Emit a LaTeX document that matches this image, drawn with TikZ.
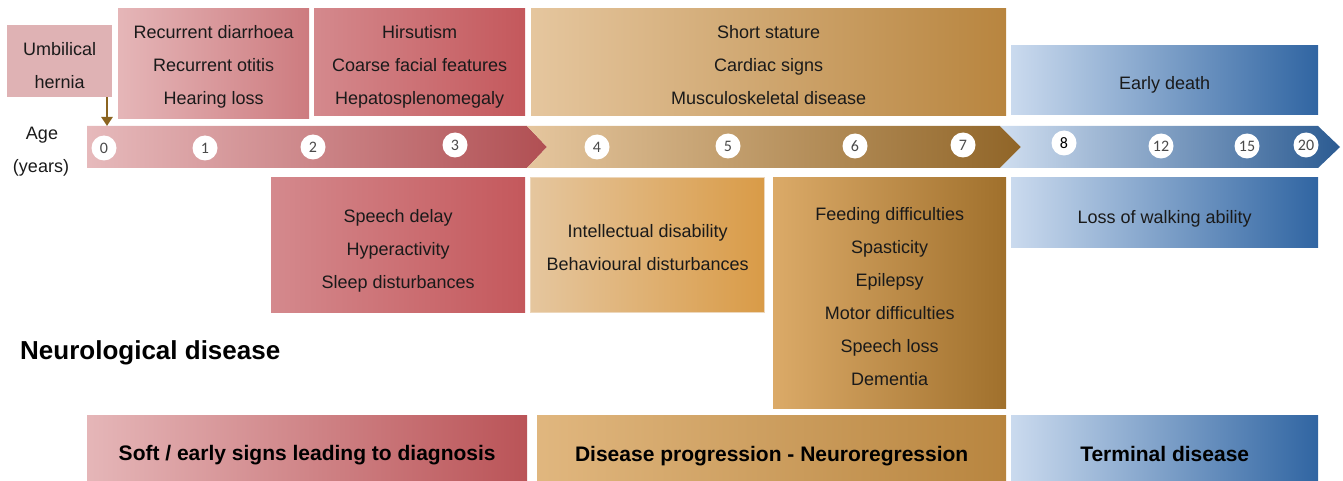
\documentclass[tikz,border=0pt]{standalone}
\usepackage{fontspec}
\setmainfont{Liberation Sans}
\newfontfamily\numfont{Carlito}
\usetikzlibrary{arrows.meta}
\newcommand\upstrut[1]{\rule{0pt}{#1}}
\definecolor{txt}{HTML}{1A1A1A}
\definecolor{redA}{HTML}{E5B6B8}
\definecolor{redB}{HTML}{CD7B7F}
\definecolor{redC}{HTML}{D4898D}
\definecolor{redD}{HTML}{C4585C}
\definecolor{tanA}{HTML}{E5C69E}
\definecolor{tanB}{HTML}{B8853F}
\definecolor{tanC}{HTML}{D99B47}
\definecolor{tanD}{HTML}{DBAA68}
\definecolor{tanE}{HTML}{A0702C}
\definecolor{bluA}{HTML}{CADAEE}
\definecolor{bluB}{HTML}{3065A2}
\definecolor{hern}{HTML}{DFB2B4}
\definecolor{arrowbrown}{HTML}{8B6420}
\definecolor{numgray}{HTML}{4A4A4A}
\tikzset{
  box/.style={draw=none, inner sep=0pt, anchor=north west, text=txt, align=center,
    font=\fontsize{18}{33}\selectfont},
  bar/.style={draw=none, inner sep=0pt, anchor=north west, text=black, align=center,
    font=\bfseries\fontsize{21}{25}\selectfont},
  lift/.style={execute at begin node={\rule{0pt}{#1}}},
  num/.style={circle, fill=white, draw=none, inner sep=0pt, minimum size=25pt,
    text=numgray, font=\numfont\fontsize{16}{16}\selectfont},
  lbl/.style={inner sep=0pt, text=txt, font=\fontsize{18}{22}\selectfont}
}
\begin{document}
\begin{tikzpicture}[x=1pt, y=-1pt]
\useasboundingbox (0,0) rectangle (1343,481);
% top boxes
\node[box, fill=hern, minimum width=105pt, minimum height=72pt] (hernia) at (7,25) {\upstrut{21pt}Umbilical\\hernia};
\node[box, left color=redA, right color=redB, minimum width=191pt, minimum height=110pt] (b1) at (118,8) {\upstrut{21pt}Recurrent diarrhoea\\Recurrent otitis\\Hearing loss};
\node[box, left color=redC, right color=redD, minimum width=211pt, minimum height=107pt] (b2) at (314,8) {\upstrut{23pt}Hirsutism\\Coarse facial features\\Hepatosplenomegaly};
\node[box, left color=tanA, right color=tanB, minimum width=475pt, minimum height=107pt] (b3) at (531,8) {\upstrut{19pt}Short stature\\Cardiac signs\\Musculoskeletal disease};
\node[box, lift=23pt, left color=bluA, right color=bluB, minimum width=307pt, minimum height=69pt] (b4) at (1011,45) {Early death};
% timeline
\shade[left color=redA!95!white, right color=redD!90!black] (87,126) -- (527,126) -- (547,147) -- (527,168) -- (87,168) -- cycle;
\shade[left color=tanA, right color=tanE!90!black] (527,126) -- (1000,126) -- (1021,147) -- (1000,168) -- (527,168) -- (547,147) -- cycle;
\shade[left color=bluA!90!white, right color=bluB!90!black] (1000,126) -- (1318,126) -- (1340,147) -- (1318,168) -- (1000,168) -- (1021,147) -- cycle;
\node[num] (n0) at (104,148) {0};
\node[num] (n1) at (205,148) {1};
\node[num] (n2) at (313,147) {2};
\node[num] (n3) at (455,145) {3};
\node[num] (n4) at (597,147) {4};
\node[num] (n5) at (728,146) {5};
\node[num] (n6) at (855,146) {6};
\node[num] (n7) at (963,145) {7};
\node[num, text=black] (n8) at (1064,143) {8};
\node[num] (n12) at (1161,146) {12};
\node[num] (n15) at (1247,146) {15};
\node[num] (n20) at (1306,145) {20};
\node[lbl] (age) at (42,135) {Age};
\node[lbl] (years) at (41,168) {(years)};
\coordinate (tip) at (107,126);
\draw[arrowbrown, line width=2.5pt, -{Triangle[length=9pt, width=11pt]}] (hernia.south -| tip) -- (tip);
% lower boxes
\node[box, left color=redC, right color=redD, minimum width=254pt, minimum height=135pt] (c1) at (271,177) {\upstrut{25pt}Speech delay\\Hyperactivity\\Sleep disturbances};
\node[box, left color=tanA, right color=tanC, draw=tanA!70!white, line width=1.2pt, minimum width=234pt, minimum height=135pt] (c2) at (530,177) {\upstrut{17pt}Intellectual disability\\Behavioural disturbances};
\node[box, left color=tanD, right color=tanE, minimum width=233pt, minimum height=231pt] (c3) at (773,177) {\upstrut{21pt}Feeding difficulties\\Spasticity\\Epilepsy\\Motor difficulties\\Speech loss\\Dementia};
\node[box, lift=27pt, left color=bluA, right color=bluB, minimum width=307pt, minimum height=70pt] (c4) at (1011,177) {Loss of walking ability};
\node[inner sep=0pt, anchor=west, text=black, font=\bfseries\fontsize{26}{30}\selectfont] (neuro) at (20,353) {Neurological disease};
% bottom bars
\node[bar, lift=29pt, left color=redA, right color=redD!95!black, minimum width=440pt, minimum height=66pt] (d1) at (87,415) {Soft / early signs leading to diagnosis};
\node[bar, lift=31pt, left color=tanD!85!white, right color=tanB, minimum width=469pt, minimum height=66pt] (d2) at (537,415) {Disease progression - Neuroregression};
\node[bar, lift=27pt, left color=bluA, right color=bluB, minimum width=307pt, minimum height=66pt] (d3) at (1011,415) {Terminal disease};
\end{tikzpicture}
\end{document}
